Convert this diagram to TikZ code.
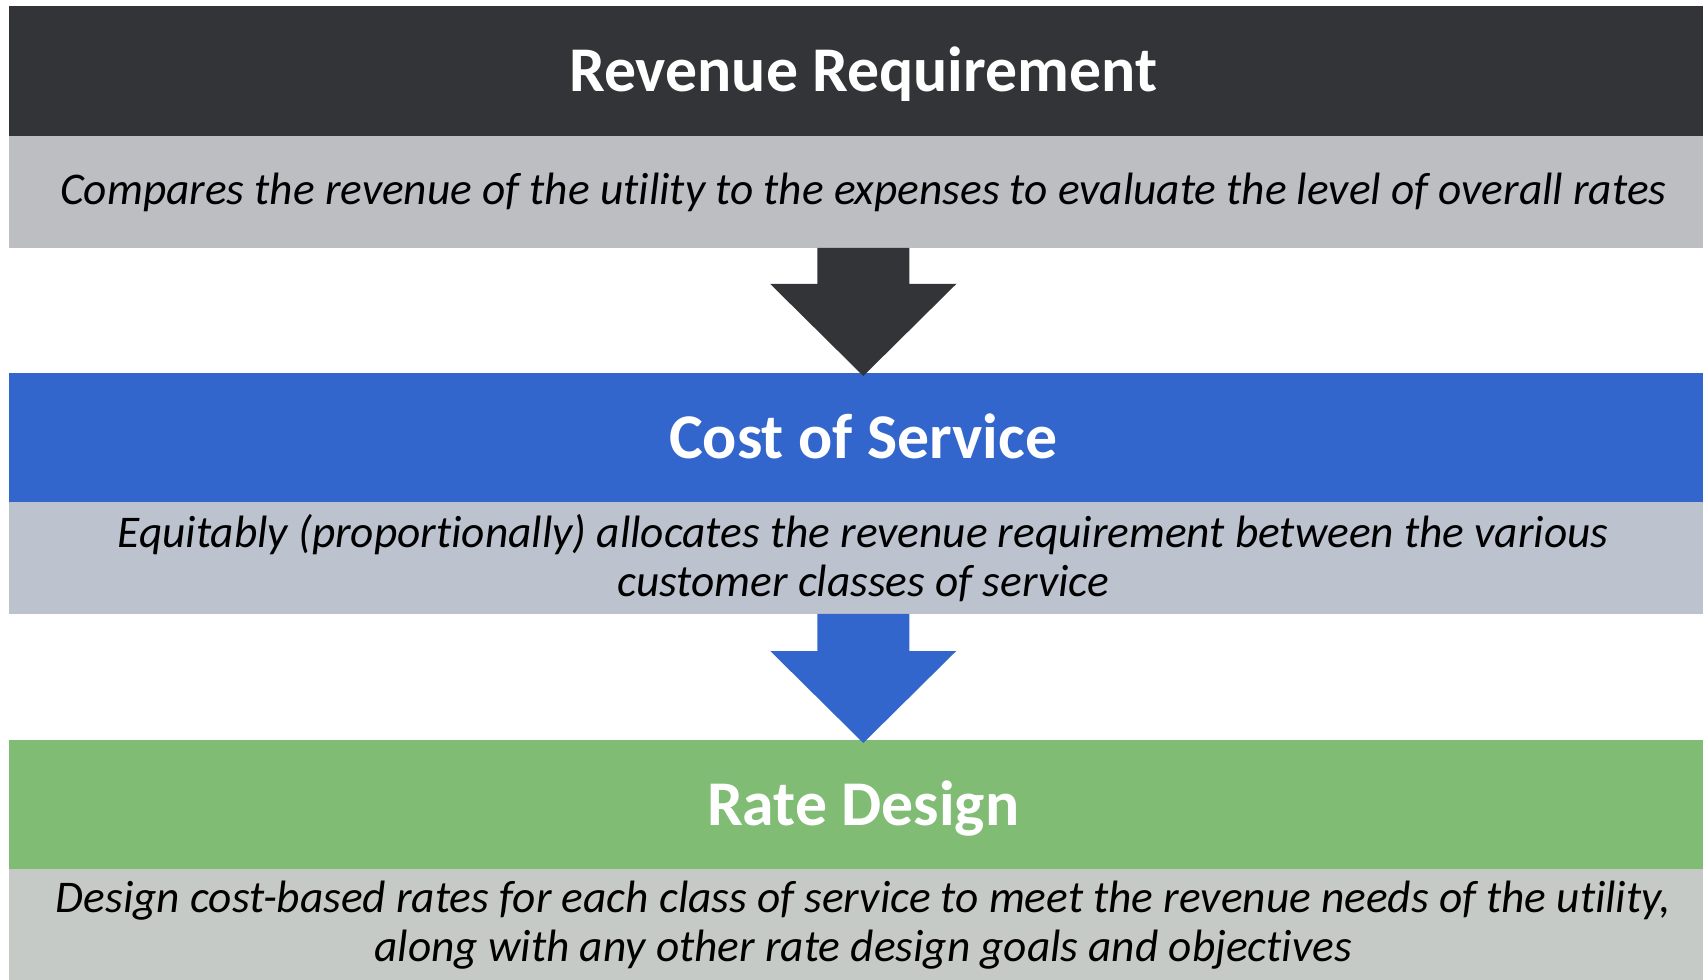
\documentclass[tikz,border=0pt]{standalone}
\usepackage{fontspec}
\setmainfont{Carlito}[Ligatures={NoCommon}]
\usetikzlibrary{calc}
\definecolor{darkband}{HTML}{333437}
\definecolor{grayone}{HTML}{BDBEC2}
\definecolor{blueband}{HTML}{3366CC}
\definecolor{graytwo}{HTML}{BCC2CE}
\definecolor{greenband}{HTML}{80BC74}
\definecolor{graythree}{HTML}{C5CAC6}
\begin{document}
\begin{tikzpicture}[x=0.75pt,y=-0.75pt,
  titleband/.style={rectangle, anchor=north west, inner sep=0pt, minimum width=1281pt, minimum height=97pt,
    text=white, font=\bfseries\fontsize{47.8}{58}\selectfont, text height=30.2pt, text depth=0pt},
  descband/.style={rectangle, anchor=north west, inner sep=0pt, minimum width=1281pt, minimum height=83.5pt,
    text=black, align=center, font=\itshape\fontsize{34}{36.75}\selectfont},
  flowarrow/.style={draw=none}]
\useasboundingbox (0,0) rectangle (1703,980);
\begin{scope}
\clip (0,0) rectangle (1703,980);
\node[titleband, fill=darkband] (t1) at (9,6) {Revenue Requirement};
\node[descband, fill=grayone] (d1) at (9,136) {Compares the revenue of the utility to the expenses to evaluate the level of overall rates};
\node[titleband, fill=blueband] (t2) at (9,373) {Cost of Service};
\node[descband, fill=graytwo] (d2) at (9,502) {Equitably (proportionally) allocates the revenue requirement between the various\\customer classes of service};
\node[titleband, fill=greenband] (t3) at (9,740) {Rate Design};
\node[descband, fill=graythree, minimum height=84pt] (d3) at (9,869) {Design cost-based rates for each class of service to meet the revenue needs of the utility,\\along with any other rate design goals and objectives};
\fill[flowarrow, darkband] ($(d1.south)+(-46,0)$) -- ($(d1.south)+(46,0)$) -- ($(t2.north)+(46,-89)$) -- ($(t2.north)+(93,-89)$)
  -- ($(t2.north)+(0,3)$) -- ($(t2.north)+(-93,-89)$) -- ($(t2.north)+(-46,-89)$) -- cycle;
\fill[flowarrow, blueband] ($(d2.south)+(-46,0)$) -- ($(d2.south)+(46,0)$) -- ($(t3.north)+(46,-89)$) -- ($(t3.north)+(93,-89)$)
  -- ($(t3.north)+(0,3)$) -- ($(t3.north)+(-93,-89)$) -- ($(t3.north)+(-46,-89)$) -- cycle;
\end{scope}
\end{tikzpicture}
\end{document}
